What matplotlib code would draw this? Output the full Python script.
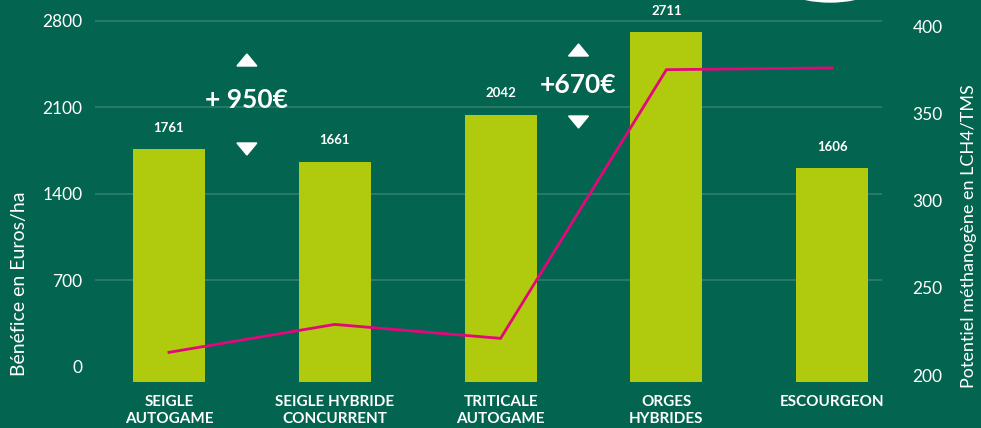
import matplotlib
matplotlib.use("Agg")
import matplotlib.pyplot as plt
import numpy as np
from matplotlib.patches import Ellipse, Polygon

categories = ["SEIGLE\nAUTOGAME", "SEIGLE HYBRIDE\nCONCURRENT", "TRITICALE\nAUTOGAME",
              "ORGES\nHYBRIDES", "ESCOURGEON"]
benefice = [1761, 1661, 2042, 2711, 1606]
potentiel = [213, 229, 221, 375, 376]
left_ticks = [0, 700, 1400, 2100, 2800]
right_ticks = [200, 250, 300, 350, 400]
gains = ["+ 950€", "+670€"]
gain_pos = [0.5, 2.5]

BG = "#03654f"
BAR = "#b0ca0d"
LINE = "#e2077b"
GRID = "#2f7f6a"
W = "white"

plt.rcParams['font.family'] = ['Lato', 'DejaVu Sans']

fig = plt.figure(figsize=(9.81, 4.28), dpi=100, facecolor=BG)
ax = fig.add_axes([95/981, 1-382/428, (882-95)/981, (382-10)/428])
ax.set_facecolor(BG)

ymin, ymax = -125.6, 2889
ax.set_ylim(ymin, ymax)
x = np.arange(len(categories))
ax.set_xlim(-0.446, 4.30)

for t in left_ticks[1:]:
    ax.axhline(t, color=GRID, lw=1.2, zorder=0)

vals = np.array(benefice, dtype=float)
ax.bar(x, vals - ymin, bottom=ymin, width=0.434, color=BAR, zorder=2)

for xi, v in zip(x, benefice):
    ax.annotate(str(v), (xi, v), xytext=(0, 11), textcoords="offset points",
                ha="center", va="bottom", color=W, fontsize=9.5, fontweight="bold")

ax.set_yticks(left_ticks)
ax.set_yticklabels([str(t) for t in left_ticks])
ax.tick_params(axis="y", length=0, pad=9, labelsize=12.5, labelcolor=W)
ax.set_xticks(x)
ax.set_xticklabels(categories)
ax.tick_params(axis="x", length=0, pad=9, labelsize=11, labelcolor=W)
for lab in ax.get_xticklabels():
    lab.set_fontweight("bold")
    lab.set_linespacing(1.3)
    lab.set_va("top")
for s in ax.spines.values():
    s.set_visible(False)

ax2 = ax.twinx()
ax2.set_ylim(196.0, 409.2)
ax2.plot(x, potentiel, color=LINE, lw=2, zorder=5, solid_joinstyle="miter")
ax2.set_yticks(right_ticks)
ax2.set_yticklabels([str(t) for t in right_ticks])
ax2.tick_params(axis="y", length=0, pad=22, labelsize=12.5, labelcolor=W)
for s in ax2.spines.values():
    s.set_visible(False)

# gain annotations
blend = ax.get_xaxis_transform()
gy_text = [100, 85]
gy_up = [60, 50]
gy_dn = [149, 122]
for g, gx, yt, yu, yd in zip(gains, gain_pos, gy_text, gy_up, gy_dn):
    ax.text(gx - 0.03, 1 - (yt - 10) / 372, g, transform=blend, ha="center", va="center",
            color=W, fontsize=19, fontweight="bold")
    for yy, up in ((yu, True), (yd, False)):
        cx = gx - 0.03
        xs = 0.06
        yc = 1 - (yy - 10) / 372
        hh = 6 / 372
        if up:
            pts = [(cx - xs, yc - hh), (cx + xs, yc - hh), (cx, yc + hh)]
        else:
            pts = [(cx - xs, yc + hh), (cx + xs, yc + hh), (cx, yc - hh)]
        ax.add_patch(Polygon(pts, closed=True, transform=blend, color=W, zorder=6, clip_on=False))

fig.text(20/981, 1-284/428, "Bénéfice en Euros/ha", rotation=90, ha="center", va="center",
         color=W, fontsize=14)
fig.text(969/981, 1-236/428, "Potentiel méthanogène en LCH4/TMS", rotation=90, ha="center",
         va="center", color=W, fontsize=13)

fig.patches.append(Ellipse((830/981, 1+121/428), 246/981, 246/428, transform=fig.transFigure,
                           color=W, zorder=10))

fig.savefig("out.png", dpi=100, facecolor=BG)
